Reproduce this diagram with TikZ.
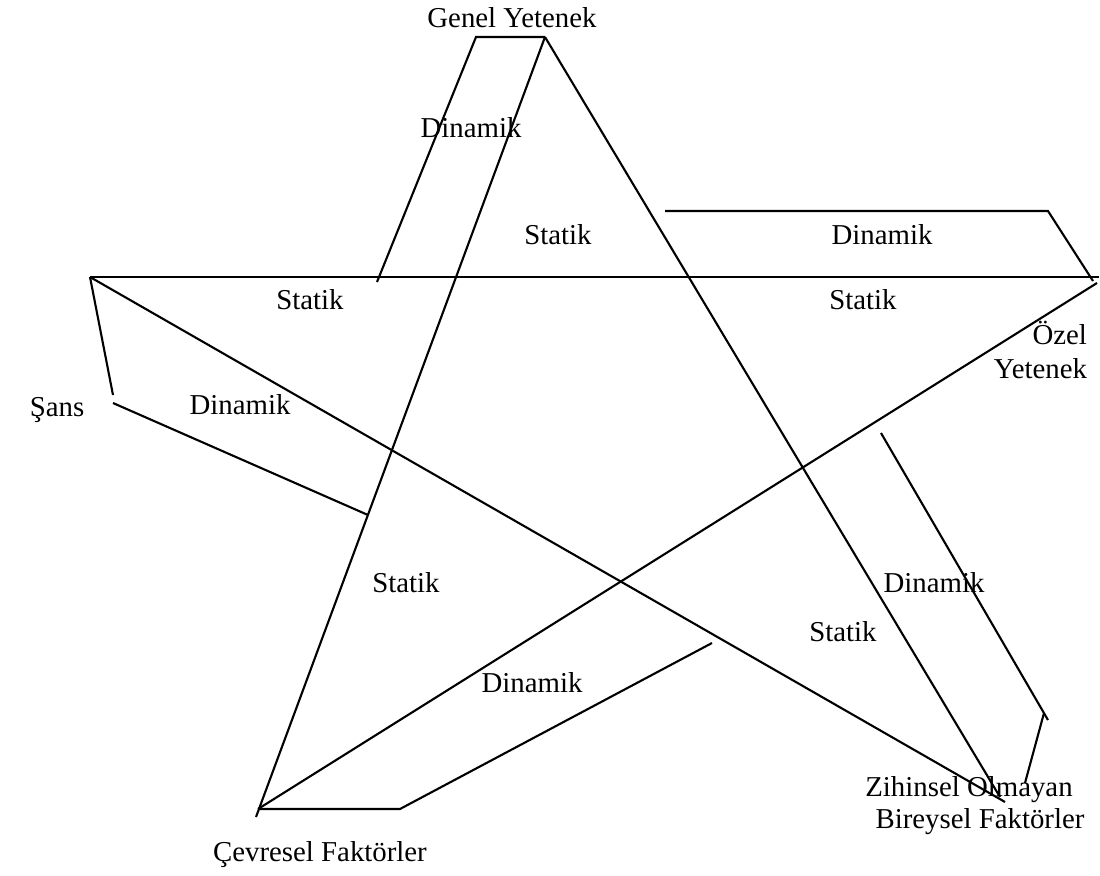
\documentclass[tikz,border=0pt]{standalone}
\usepackage{fontspec}
\setmainfont{Liberation Serif}
\begin{document}
\begin{tikzpicture}[x=0.02cm,y=-0.02cm,line width=1.2pt,
  lbl/.style={font=\fontsize{16.4}{19}\selectfont,inner sep=0pt}]
\useasboundingbox (0,0) rectangle (1100,876);
% star corners
\coordinate (G) at (545,37);
\coordinate (L) at (90,277);
\coordinate (R) at (1097,283);
\coordinate (C) at (258,809);
\coordinate (Z) at (1005,802);
% star
\draw (L) -- (1099,277);
\draw (G) -- (1000,797);
\draw (L) -- (Z);
\draw (R) -- (C);
\draw (G) -- (256,817);
% dinamik bands
\draw (G) -- (476,37) -- (377,282);
\draw (665,211) -- (1048,211) -- (1093,281);
\draw (L) -- (113,395);
\draw (113,403) -- (368,515);
\draw (881,433) -- (1048,720);
\draw (1044,713) -- (1025,783);
\draw (C) -- (400,809) -- (712,643);
% labels
\path (512,18) node[lbl] (genel) {Genel Yetenek};
\path (471,128) node[lbl] (d1) {Dinamik};
\path (558,235) node[lbl] (s1) {Statik};
\path (882,235) node[lbl] (d2) {Dinamik};
\path (310,300) node[lbl] (s2) {Statik};
\path (863,300) node[lbl] (s3) {Statik};
\path (1088,350) node[lbl,anchor=east,align=right] (ozel) {Özel\\Yetenek};
\path (57,410) node[lbl] (sans) {Şans};
\path (240,405) node[lbl] (d3) {Dinamik};
\path (406,583) node[lbl] (s4) {Statik};
\path (934,583) node[lbl] (d4) {Dinamik};
\path (843,632) node[lbl] (s5) {Statik};
\path (532,683) node[lbl] (d5) {Dinamik};
\path (969,790) node[lbl] (zihin) {Zihinsel Olmayan};
\path (980,822) node[lbl] (birey) {Bireysel Faktörler};
\path (320,855) node[lbl] (cevre) {Çevresel Faktörler};
\end{tikzpicture}
\end{document}
